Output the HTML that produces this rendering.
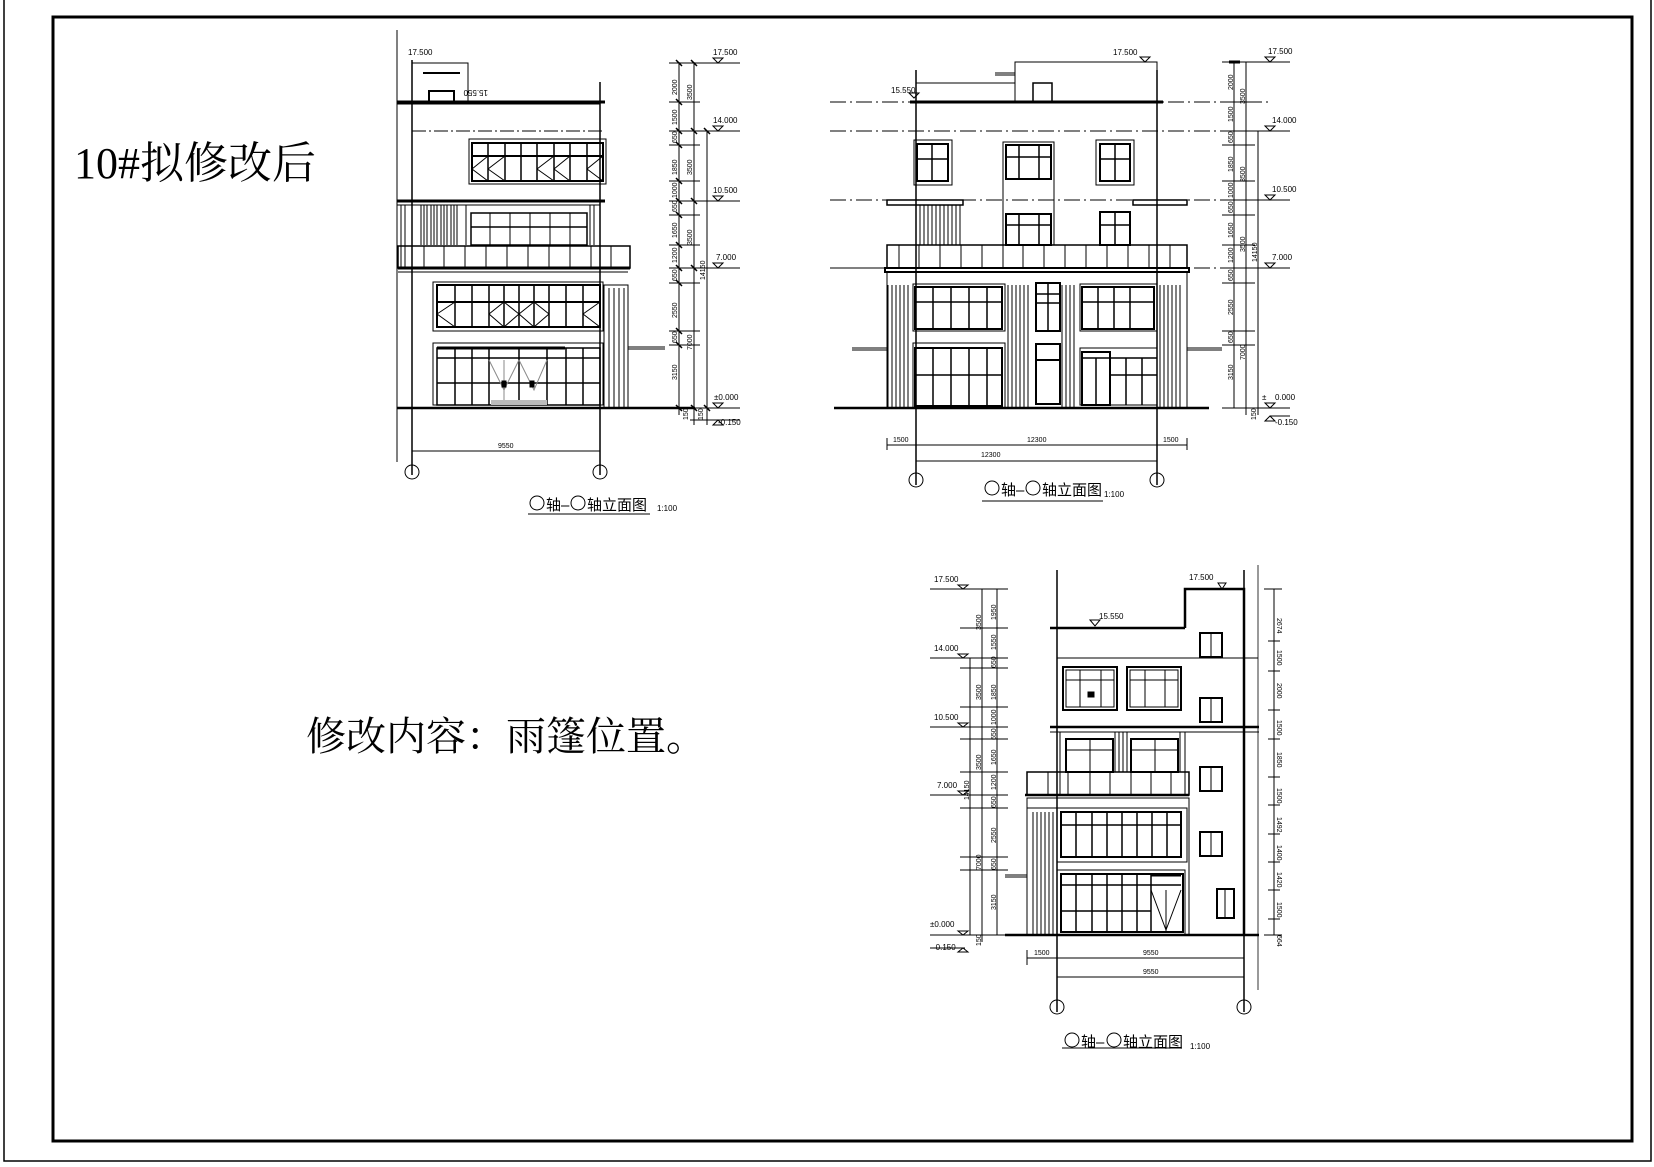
<!DOCTYPE html>
<html><head><meta charset="utf-8"><style>
html,body{margin:0;padding:0;background:#fff;width:1654px;height:1167px;overflow:hidden}
svg{display:block}
text{font-family:"Liberation Sans","Noto Sans CJK SC",sans-serif;fill:#000}
.s{font-family:"Liberation Serif","Noto Serif CJK SC",serif}
</style></head><body>
<svg width="1654" height="1167" viewBox="0 0 1654 1167" xmlns="http://www.w3.org/2000/svg" fill="none" stroke="#000" stroke-width="1">
<!-- frames -->
<rect x="4" y="-2" width="1647" height="1163" stroke-width="1.5"/>
<rect x="53" y="17" width="1579" height="1124" stroke-width="3"/>
<text class="s" x="74" y="178" font-size="44" stroke="none">10#拟修改后</text>
<text class="s" x="306" y="750" font-size="40" stroke="none">修改内容：雨篷位置。</text>

<!-- ===== Elevation 1 ===== -->
<g>
<line x1="397" y1="30" x2="397" y2="462"/>
<line x1="412" y1="60" x2="412" y2="475" stroke-width="1.5"/>
<line x1="600" y1="82" x2="600" y2="475" stroke-width="1.5"/>
<rect x="412" y="63" width="56" height="39"/>
<line x1="423" y1="73" x2="460" y2="73" stroke-width="2"/>
<rect x="429" y="91" width="25" height="11" stroke-width="2"/>
<line x1="397" y1="102" x2="605" y2="102" stroke-width="3"/>
<line x1="397" y1="104" x2="600" y2="104"/>
<line x1="412" y1="131" x2="605" y2="131" stroke-dasharray="14 3 2 3"/>
<rect x="469" y="139" width="137" height="45"/>
<rect x="472" y="143" width="131" height="38" stroke-width="2"/>
<line x1="472" y1="156" x2="603" y2="156" stroke-width="2"/>
<path d="M488 143V181M505 143V181M521 143V181M537 143V181M554 143V181M570 143V181M587 143V181" stroke-width="1.5"/>
<path d="M472 169L488 156L488 181ZM488 169L505 156M488 169L505 181M537 169L554 156M537 169L554 181M554 169L570 156M554 169L570 181M587 169L603 156M587 169L603 181"/>
<line x1="397" y1="201" x2="605" y2="201" stroke-width="3"/>
<line x1="397" y1="205" x2="600" y2="205"/>
<path d="M401 205V268M405 205V268M421 205V245M424 205V245M427 205V245M431 205V245M434 205V245M437 205V245M441 205V245M444 205V245M447 205V245M451 205V245M454 205V245M457 205V245M466 205V245M590 205V245M594 205V245" />
<rect x="471" y="213" width="116" height="32" stroke-width="1.5"/>
<line x1="471" y1="227" x2="587" y2="227" stroke-width="1.5"/>
<path d="M490 213V245M510 213V245M530 213V245M550 213V245M570 213V245"/>
<rect x="398" y="246" width="232" height="22" stroke-width="1.5"/>
<path d="M424 246V268M444 246V268M465 246V268M486 246V268M507 246V268M528 246V268M549 246V268M570 246V268M591 246V268M611 246V268"/>
<line x1="398" y1="268" x2="630" y2="268" stroke-width="3"/>
<line x1="398" y1="272" x2="628" y2="272"/>
<rect x="433" y="282" width="170" height="49"/>
<rect x="437" y="285" width="163" height="42" stroke-width="2"/>
<line x1="437" y1="302" x2="600" y2="302" stroke-width="2"/>
<path d="M455 285V327M472 285V327M489 285V327M519 285V327M549 285V327M566 285V327M583 285V327M504 285V327M534 285V327" stroke-width="1.5"/>
<path d="M437 314L455 302M437 314L455 327M489 314L504 302M489 314L504 327M519 314L504 302M519 314L504 327M519 314L534 302M519 314L534 327M549 314L534 302M549 314L534 327M583 314L600 302M583 314L600 327"/>
<rect x="433" y="343" width="170" height="62"/>
<line x1="437" y1="348" x2="565" y2="348" stroke-width="3"/>
<rect x="437" y="348" width="163" height="57" stroke-width="1.5"/>
<line x1="437" y1="358" x2="600" y2="358" stroke-width="1.5"/>
<line x1="437" y1="383" x2="600" y2="383" stroke-width="1.5"/>
<path d="M455 348V405M472 348V405M489 348V405M519 348V405M547 348V405M566 348V405M583 348V405" stroke-width="1.5"/>
<path d="M504 360V405M489 360L504 390L519 360M519 360L534 390L547 360" stroke="#888"/>
<rect x="502" y="381" width="4" height="6" fill="#000"/><rect x="530" y="381" width="4" height="6" fill="#000"/>
<rect x="491" y="400" width="56" height="5" fill="#bbb" stroke="none"/>
<rect x="604" y="285" width="24" height="123"/>
<path d="M609 288V408M614 288V408M619 288V408M624 288V408"/>
<line x1="628" y1="347" x2="665" y2="347"/><line x1="628" y1="349" x2="665" y2="349"/>
<line x1="397" y1="408" x2="695" y2="408" stroke-width="2.5"/>
<!-- dims -->
<line x1="679" y1="62" x2="679" y2="415"/><line x1="694" y1="62" x2="694" y2="425"/><line x1="707" y1="131" x2="707" y2="425"/>
<path d="M669 63H740M669 102H700M669 131H740M669 145H700M669 181H700M669 201H740M669 215H700M669 245H700M669 268H740M669 283H700M669 331H700M669 345H700M669 408H740M690 420H740"/>
<path d="M676 60L682 66M676 99L682 105M676 128L682 134M676 142L682 148M676 178L682 184M676 198L682 204M676 212L682 218M676 242L682 248M676 265L682 271M676 280L682 286M676 328L682 334M676 342L682 348M676 405L682 411M691 60L697 66M691 128L697 134M691 198L697 204M691 265L697 271M691 405L697 411M704 128L710 134M704 405L710 411" stroke-width="1.5"/>
<path d="M713 58L718 63L723 58ZM713 126L718 131L723 126ZM713 196L718 201L723 196ZM713 263L718 268L723 263ZM713 403L718 408L723 403ZM713 425L718 420L723 425Z"/>
<g font-size="8" stroke="none">
<text x="713" y="55">17.500</text><text x="713" y="123">14.000</text><text x="713" y="193">10.500</text><text x="716" y="260">7.000</text><text x="714" y="400">±0.000</text><text x="718" y="425">-0.150</text>
<text x="408" y="55">17.500</text>
<text transform="translate(488,90) rotate(180)" font-size="8">15.550</text>
</g>
<g font-size="7" stroke="none">
<text transform="translate(677,95) rotate(-90)">2000</text><text transform="translate(677,125) rotate(-90)">1500</text><text transform="translate(677,143) rotate(-90)">650</text><text transform="translate(677,175) rotate(-90)">1850</text><text transform="translate(677,198) rotate(-90)">1000</text><text transform="translate(677,212) rotate(-90)">650</text><text transform="translate(677,238) rotate(-90)">1650</text><text transform="translate(677,263) rotate(-90)">1200</text><text transform="translate(677,281) rotate(-90)">650</text><text transform="translate(677,318) rotate(-90)">2550</text><text transform="translate(677,343) rotate(-90)">650</text><text transform="translate(677,380) rotate(-90)">3150</text><text transform="translate(692,100) rotate(-90)">3500</text><text transform="translate(692,175) rotate(-90)">3500</text><text transform="translate(692,245) rotate(-90)">3500</text><text transform="translate(692,350) rotate(-90)">7000</text><text transform="translate(705,280) rotate(-90)">14150</text><text transform="translate(688,420) rotate(-90)">150</text><text transform="translate(703,420) rotate(-90)">150</text>
<text x="498" y="448">9550</text>
</g>
<line x1="412" y1="451" x2="600" y2="451"/>
<circle cx="412" cy="472" r="7"/><circle cx="600" cy="472" r="7"/>
<circle cx="537" cy="503" r="7"/><circle cx="578" cy="503" r="7"/>
<text x="546" y="510" font-size="15" stroke="none">轴–</text><text x="587" y="510" font-size="15" stroke="none">轴立面图</text>
<text x="657" y="511" font-size="8" stroke="none">1:100</text>
<line x1="528" y1="514" x2="650" y2="514"/>
</g>

<!-- ===== Elevation 2 ===== -->
<g>
<path d="M830 102H1270M830 131H1270M830 200H1270M830 268H1270" stroke-dasharray="16 4 2 4"/>
<line x1="916" y1="70" x2="916" y2="485" stroke-width="1.5"/><line x1="1157" y1="70" x2="1157" y2="485" stroke-width="1.5"/>
<rect x="1015" y="62" width="142" height="40"/>
<line x1="995" y1="73" x2="1015" y2="73"/><line x1="995" y1="75" x2="1015" y2="75"/>
<rect x="1033" y="83" width="19" height="19" stroke-width="1.5"/>
<line x1="916" y1="83" x2="1015" y2="83"/>
<line x1="910" y1="102" x2="1163" y2="102" stroke-width="3"/>
<rect x="914" y="140" width="38" height="45"/><rect x="917" y="144" width="31" height="37" stroke-width="2"/><path d="M917 159H948M932 144V181" stroke-width="1.5"/>
<rect x="1003" y="142" width="51" height="103"/><rect x="1006" y="145" width="45" height="34" stroke-width="2"/><path d="M1006 157H1051M1019 145V179M1039 145V179" stroke-width="1.5"/>
<rect x="1006" y="214" width="45" height="31" stroke-width="2"/><path d="M1006 225H1051M1019 214V245M1039 214V245" stroke-width="1.5"/>
<rect x="1096" y="140" width="38" height="45"/><rect x="1100" y="144" width="30" height="37" stroke-width="2"/><path d="M1100 159H1130M1115 144V181" stroke-width="1.5"/>
<rect x="1100" y="212" width="30" height="33" stroke-width="2"/><path d="M1100 225H1130M1115 212V245" stroke-width="1.5"/>
<rect x="887" y="200" width="76" height="5" stroke-width="1.5"/><rect x="1133" y="200" width="54" height="5" stroke-width="1.5"/>
<path d="M920 205V245M924 205V245M928 205V245M932 205V245M936 205V245M940 205V245M944 205V245M948 205V245M952 205V245M956 205V245M960 205V245"/>
<rect x="887" y="245" width="300" height="23" stroke-width="1.5"/>
<path d="M899 245V268M919 245V268M940 245V268M961 245V268M982 245V268M1003 245V268M1023 245V268M1044 245V268M1065 245V268M1086 245V268M1107 245V268M1128 245V268M1149 245V268M1170 245V268"/>
<line x1="843" y1="268" x2="1189" y2="268" stroke-width="1"/>
<rect x="885" y="268" width="304" height="4" stroke-width="2"/>
<rect x="887" y="272" width="300" height="136"/>
<rect x="913" y="284" width="92" height="47"/><rect x="915" y="287" width="87" height="42" stroke-width="2"/><path d="M915 302H1002M933 287V329M951 287V329M969 287V329M987 287V329" stroke-width="1.5"/>
<rect x="1036" y="283" width="24" height="48" stroke-width="2"/><path d="M1036 294H1060M1036 303H1060M1048 283V331" stroke-width="1.5"/>
<rect x="1080" y="284" width="77" height="47"/><rect x="1082" y="287" width="72" height="42" stroke-width="2"/><path d="M1082 302H1154M1098 287V329M1114 287V329M1130 287V329" stroke-width="1.5"/>
<rect x="913" y="343" width="92" height="65"/><rect x="915" y="348" width="87" height="58" stroke-width="2"/><path d="M915 375H1002M933 348V406M951 348V406M969 348V406M987 348V406" stroke-width="1.5"/>
<rect x="1036" y="344" width="24" height="60" stroke-width="2"/><line x1="1036" y1="360" x2="1060" y2="360" stroke-width="2"/>
<rect x="1080" y="348" width="77" height="57"/><rect x="1082" y="352" width="28" height="53" stroke-width="2"/><path d="M1082 358H1110M1096 358V405M1110 358H1157M1126 358V405M1142 358V405M1110 375H1157" stroke-width="1.5"/>
<path d="M888 285V408M892 285V408M896 285V408M900 285V408M904 285V408M908 285V408M1008 285V408M1012 285V408M1016 285V408M1020 285V408M1024 285V408M1028 285V408M1062 285V408M1066 285V408M1070 285V408M1074 285V408M1160 285V408M1164 285V408M1168 285V408M1172 285V408M1176 285V408M1180 285V408"/>
<path d="M852 348H887M852 350H887M1187 348H1222M1187 350H1222"/>
<line x1="834" y1="408" x2="1209" y2="408" stroke-width="2.5"/>
<path d="M1222 62H1290M1222 102H1255M1222 131H1290M1222 145H1255M1222 181H1255M1222 200H1290M1222 215H1255M1222 245H1255M1222 268H1290M1222 283H1255M1222 331H1255M1222 345H1255M1222 408H1290M1270 416H1290"/>
<line x1="1234" y1="62" x2="1234" y2="408"/><line x1="1246" y1="62" x2="1246" y2="415"/><line x1="1258" y1="131" x2="1258" y2="415"/>
<path d="M1229 62H1240" stroke-width="3"/>
<path d="M1265 57L1270 62L1275 57ZM1265 126L1270 131L1275 126ZM1265 195L1270 200L1275 195ZM1265 263L1270 268L1275 263ZM1265 403L1270 408L1275 403ZM1265 421L1270 416L1275 421Z"/>
<g font-size="8" stroke="none">
<text x="1268" y="54">17.500</text><text x="1272" y="123">14.000</text><text x="1272" y="192">10.500</text><text x="1272" y="260">7.000</text><text x="1275" y="400">0.000</text><text x="1262" y="400">±</text><text x="1275" y="425">-0.150</text>
<text x="1113" y="55">17.500</text><text x="891" y="93">15.550</text>
</g>
<path d="M1140 57L1145 62L1150 57ZM909 93L914 98L919 93Z"/>
<g font-size="7" stroke="none">
<text transform="translate(1233,90) rotate(-90)">2000</text><text transform="translate(1233,122) rotate(-90)">1500</text><text transform="translate(1233,143) rotate(-90)">650</text><text transform="translate(1233,172) rotate(-90)">1850</text><text transform="translate(1233,198) rotate(-90)">1000</text><text transform="translate(1233,213) rotate(-90)">650</text><text transform="translate(1233,238) rotate(-90)">1650</text><text transform="translate(1233,263) rotate(-90)">1200</text><text transform="translate(1233,281) rotate(-90)">650</text><text transform="translate(1233,315) rotate(-90)">2550</text><text transform="translate(1233,343) rotate(-90)">650</text><text transform="translate(1233,380) rotate(-90)">3150</text><text transform="translate(1245,104) rotate(-90)">3500</text><text transform="translate(1245,182) rotate(-90)">3500</text><text transform="translate(1245,252) rotate(-90)">3500</text><text transform="translate(1245,360) rotate(-90)">7000</text><text transform="translate(1257,262) rotate(-90)">14150</text><text transform="translate(1256,420) rotate(-90)">150</text>
<text x="893" y="442">1500</text><text x="1027" y="442">12300</text><text x="1163" y="442">1500</text><text x="981" y="457">12300</text>
</g>
<path d="M887 445H1187M916 461H1157M887 438V450M1187 438V450M916 420V470M1157 420V470"/>
<circle cx="916" cy="480" r="7"/><circle cx="1157" cy="480" r="7"/>
<circle cx="992" cy="488" r="7"/><circle cx="1033" cy="488" r="7"/>
<text x="1001" y="495" font-size="15" stroke="none">轴–</text><text x="1042" y="495" font-size="15" stroke="none">轴立面图</text>
<text x="1104" y="497" font-size="8" stroke="none">1:100</text>
<line x1="982" y1="501" x2="1103" y2="501"/>
</g>

<!-- ===== Elevation 3 ===== -->
<g>
<line x1="1258" y1="565" x2="1258" y2="990" stroke="#999" stroke-width="2"/>
<line x1="1057" y1="570" x2="1057" y2="1012" stroke-width="1.5"/><line x1="1244" y1="570" x2="1244" y2="1012" stroke-width="1.5"/>
<path d="M1185 628V589H1244V935" stroke-width="2.5"/>
<line x1="1050" y1="628" x2="1185" y2="628" stroke-width="2.5"/>
<line x1="1057" y1="658" x2="1258" y2="658"/>
<rect x="1063" y="667" width="54" height="43" stroke-width="2"/><rect x="1066" y="670" width="48" height="37"/><path d="M1066 680H1114M1080 670V707M1101 670V707"/>
<rect x="1127" y="667" width="54" height="43" stroke-width="2"/><rect x="1130" y="670" width="48" height="37"/><path d="M1130 680H1178M1145 670V707M1165 670V707"/>
<rect x="1088" y="692" width="6" height="5" fill="#000"/>
<line x1="1050" y1="727" x2="1259" y2="727" stroke-width="2.5"/><line x1="1050" y1="732" x2="1259" y2="732"/>
<path d="M1060 732V795M1115 732V772M1119 732V772M1123 732V772M1127 732V772M1180 732V772M1185 732V795"/>
<rect x="1066" y="739" width="47" height="33" stroke-width="2"/><path d="M1066 750H1113M1090 739V772"/>
<rect x="1131" y="739" width="47" height="33" stroke-width="2"/><path d="M1131 750H1178M1155 739V772"/>
<rect x="1027" y="772" width="162" height="23" stroke-width="1.5"/>
<path d="M1048 772V795M1068 772V795M1090 772V795M1110 772V795M1131 772V795M1151 772V795M1171 772V795"/>
<line x1="1025" y1="795" x2="1189" y2="795" stroke-width="2.5"/>
<rect x="1027" y="798" width="162" height="137"/>
<path d="M1027 808H1057" />
<path d="M1033 812V935M1037 812V935M1041 812V935M1045 812V935M1049 812V935M1053 812V935"/>
<rect x="1057" y="808" width="130" height="54"/>
<rect x="1061" y="812" width="120" height="45" stroke-width="2"/><path d="M1061 825H1181M1076 812V857M1092 812V857M1107 812V857M1122 812V857M1137 812V857M1152 812V857M1167 812V857" stroke-width="1.5"/>
<rect x="1057" y="870" width="128" height="65"/>
<rect x="1061" y="874" width="122" height="58" stroke-width="2"/><path d="M1061 885H1181M1061 911H1151M1076 874V932M1092 874V932M1107 874V932M1122 874V932M1137 874V932M1151 874V932" stroke-width="1.5"/>
<line x1="1151" y1="875" x2="1181" y2="875" stroke-width="3"/>
<path d="M1151 890L1166 930L1181 890M1166 890V932"/>
<rect x="1200" y="633" width="22" height="24" stroke-width="2"/><rect x="1200" y="698" width="22" height="24" stroke-width="2"/><rect x="1200" y="767" width="22" height="24" stroke-width="2"/><rect x="1200" y="832" width="22" height="24" stroke-width="2"/><rect x="1217" y="889" width="17" height="29" stroke-width="2"/>
<path d="M1211 633V657M1211 698V722M1211 767V791M1211 832V856M1225 889V918"/>
<line x1="1005" y1="875" x2="1027" y2="875"/><line x1="1005" y1="877" x2="1027" y2="877"/>
<line x1="1005" y1="935" x2="1259" y2="935" stroke-width="2.5"/>
<!-- left dims -->
<path d="M930 589H1008M960 628H1008M930 658H1008M960 668H1008M960 707H1008M930 727H1008M960 739H1008M960 772H1008M930 795H1008M960 808H1008M960 857H1008M960 870H1008M930 935H1008M930 948H965"/>
<line x1="970" y1="658" x2="970" y2="935"/><line x1="982" y1="589" x2="982" y2="942"/><line x1="997" y1="589" x2="997" y2="935"/>
<path d="M958 585L963 589L968 585ZM958 654L963 658L968 654ZM958 723L963 727L968 723ZM958 791L963 795L968 791ZM958 931L963 935L968 931ZM958 952L963 948L968 952Z"/>
<g font-size="8" stroke="none">
<text x="934" y="582">17.500</text><text x="934" y="651">14.000</text><text x="934" y="720">10.500</text><text x="937" y="788">7.000</text><text x="930" y="927">±0.000</text><text x="933" y="950">-0.150</text>
<text x="1189" y="580">17.500</text><text x="1099" y="619">15.550</text>
</g>
<path d="M1218 583L1222 589L1226 583ZM1090 620L1095 626L1100 620Z"/>
<g font-size="7" stroke="none">
<text transform="translate(996,620) rotate(-90)">1950</text><text transform="translate(996,650) rotate(-90)">1550</text><text transform="translate(996,668) rotate(-90)">650</text><text transform="translate(996,700) rotate(-90)">1850</text><text transform="translate(996,725) rotate(-90)">1000</text><text transform="translate(996,740) rotate(-90)">650</text><text transform="translate(996,765) rotate(-90)">1650</text><text transform="translate(996,790) rotate(-90)">1200</text><text transform="translate(996,808) rotate(-90)">650</text><text transform="translate(996,843) rotate(-90)">2550</text><text transform="translate(996,870) rotate(-90)">650</text><text transform="translate(996,910) rotate(-90)">3150</text><text transform="translate(981,630) rotate(-90)">3500</text><text transform="translate(981,700) rotate(-90)">3500</text><text transform="translate(981,770) rotate(-90)">3500</text><text transform="translate(981,870) rotate(-90)">7000</text><text transform="translate(969,800) rotate(-90)">14150</text><text transform="translate(981,946) rotate(-90)">150</text>
<text transform="translate(1277,618) rotate(90)">2674</text><text transform="translate(1277,650) rotate(90)">1500</text><text transform="translate(1277,683) rotate(90)">2000</text><text transform="translate(1277,720) rotate(90)">1500</text><text transform="translate(1277,752) rotate(90)">1850</text><text transform="translate(1277,788) rotate(90)">1500</text><text transform="translate(1277,817) rotate(90)">1492</text><text transform="translate(1277,845) rotate(90)">1400</text><text transform="translate(1277,872) rotate(90)">1420</text><text transform="translate(1277,902) rotate(90)">1500</text><text transform="translate(1277,935) rotate(90)">664</text>
<text x="1034" y="955">1500</text><text x="1143" y="955">9550</text><text x="1143" y="974">9550</text>
</g>
<line x1="1274" y1="589" x2="1274" y2="935"/>
<path d="M1264 589H1282M1268 641H1280M1268 671H1280M1268 710H1280M1268 739H1280M1268 777H1280M1268 805H1280M1268 834H1280M1268 862H1280M1268 890H1280M1268 919H1280M1264 935H1282"/>
<path d="M1027 958H1244M1057 977H1244M1027 950V965M1057 940V1012M1244 940V1012"/>
<circle cx="1057" cy="1007" r="7"/><circle cx="1244" cy="1007" r="7"/>
<circle cx="1072" cy="1040" r="7"/><circle cx="1114" cy="1040" r="7"/>
<text x="1081" y="1047" font-size="15" stroke="none">轴–</text><text x="1123" y="1047" font-size="15" stroke="none">轴立面图</text>
<text x="1190" y="1049" font-size="8" stroke="none">1:100</text>
<line x1="1062" y1="1048" x2="1182" y2="1048"/>
</g>
</svg>
</body></html>
